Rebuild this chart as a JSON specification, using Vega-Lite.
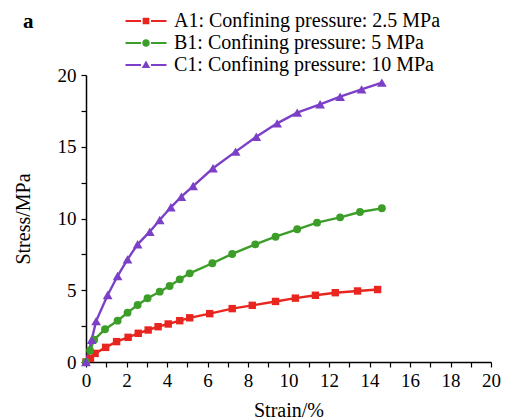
{
  "$schema": "https://vega.github.io/schema/vega-lite/v6.json",
  "width": 405,
  "height": 287,
  "autosize": "none",
  "padding": {"left": 86, "top": 75, "right": 17, "bottom": 57},
  "background": "white",
  "title": {"text": "a", "anchor": "start", "frame": "group", "font": "Liberation Serif", "fontSize": 21, "fontWeight": "bold", "color": "black", "dx": -63, "dy": 21, "offset": 0},
  "config": {
    "view": {"stroke": null},
    "font": "Liberation Serif",
    "axis": {"domainColor": "black", "tickColor": "black", "domainWidth": 1.5, "tickWidth": 1.2, "tickSize": 5, "grid": false, "labelFont": "Liberation Serif", "titleFont": "Liberation Serif", "labelFontSize": 19, "titleFontSize": 20, "labelColor": "black", "titleColor": "black", "titleFontWeight": "normal"}
  },
  "data": {"values": [
    {"s": "A1: Confining pressure: 2.5 MPa", "x": 0, "y": 0},
    {"s": "A1: Confining pressure: 2.5 MPa", "x": 0.22, "y": 0.25},
    {"s": "A1: Confining pressure: 2.5 MPa", "x": 0.45, "y": 0.6},
    {"s": "A1: Confining pressure: 2.5 MPa", "x": 0.97, "y": 1.02},
    {"s": "A1: Confining pressure: 2.5 MPa", "x": 1.51, "y": 1.42},
    {"s": "A1: Confining pressure: 2.5 MPa", "x": 2.08, "y": 1.72},
    {"s": "A1: Confining pressure: 2.5 MPa", "x": 2.58, "y": 2.0},
    {"s": "A1: Confining pressure: 2.5 MPa", "x": 3.07, "y": 2.23},
    {"s": "A1: Confining pressure: 2.5 MPa", "x": 3.56, "y": 2.46},
    {"s": "A1: Confining pressure: 2.5 MPa", "x": 4.06, "y": 2.65},
    {"s": "A1: Confining pressure: 2.5 MPa", "x": 4.63, "y": 2.88},
    {"s": "A1: Confining pressure: 2.5 MPa", "x": 5.12, "y": 3.08},
    {"s": "A1: Confining pressure: 2.5 MPa", "x": 6.11, "y": 3.37},
    {"s": "A1: Confining pressure: 2.5 MPa", "x": 7.22, "y": 3.72},
    {"s": "A1: Confining pressure: 2.5 MPa", "x": 8.21, "y": 3.95},
    {"s": "A1: Confining pressure: 2.5 MPa", "x": 9.36, "y": 4.22},
    {"s": "A1: Confining pressure: 2.5 MPa", "x": 10.34, "y": 4.45},
    {"s": "A1: Confining pressure: 2.5 MPa", "x": 11.33, "y": 4.65},
    {"s": "A1: Confining pressure: 2.5 MPa", "x": 12.31, "y": 4.83},
    {"s": "A1: Confining pressure: 2.5 MPa", "x": 13.41, "y": 4.95},
    {"s": "A1: Confining pressure: 2.5 MPa", "x": 14.4, "y": 5.05},
    {"s": "B1: Confining pressure: 5 MPa", "x": 0, "y": 0},
    {"s": "B1: Confining pressure: 5 MPa", "x": 0.2, "y": 0.8},
    {"s": "B1: Confining pressure: 5 MPa", "x": 0.4, "y": 1.55},
    {"s": "B1: Confining pressure: 5 MPa", "x": 0.94, "y": 2.28},
    {"s": "B1: Confining pressure: 5 MPa", "x": 1.56, "y": 2.88},
    {"s": "B1: Confining pressure: 5 MPa", "x": 2.05, "y": 3.44},
    {"s": "B1: Confining pressure: 5 MPa", "x": 2.55, "y": 3.97},
    {"s": "B1: Confining pressure: 5 MPa", "x": 3.04, "y": 4.44},
    {"s": "B1: Confining pressure: 5 MPa", "x": 3.64, "y": 4.9},
    {"s": "B1: Confining pressure: 5 MPa", "x": 4.13, "y": 5.3},
    {"s": "B1: Confining pressure: 5 MPa", "x": 4.63, "y": 5.76},
    {"s": "B1: Confining pressure: 5 MPa", "x": 5.12, "y": 6.18},
    {"s": "B1: Confining pressure: 5 MPa", "x": 6.24, "y": 6.88},
    {"s": "B1: Confining pressure: 5 MPa", "x": 7.22, "y": 7.53},
    {"s": "B1: Confining pressure: 5 MPa", "x": 8.36, "y": 8.2},
    {"s": "B1: Confining pressure: 5 MPa", "x": 9.36, "y": 8.73},
    {"s": "B1: Confining pressure: 5 MPa", "x": 10.43, "y": 9.25},
    {"s": "B1: Confining pressure: 5 MPa", "x": 11.41, "y": 9.71},
    {"s": "B1: Confining pressure: 5 MPa", "x": 12.55, "y": 10.08},
    {"s": "B1: Confining pressure: 5 MPa", "x": 13.53, "y": 10.45},
    {"s": "B1: Confining pressure: 5 MPa", "x": 14.61, "y": 10.71},
    {"s": "C1: Confining pressure: 10 MPa", "x": 0, "y": 0},
    {"s": "C1: Confining pressure: 10 MPa", "x": 0.28, "y": 1.55},
    {"s": "C1: Confining pressure: 10 MPa", "x": 0.5, "y": 2.85},
    {"s": "C1: Confining pressure: 10 MPa", "x": 1.07, "y": 4.67},
    {"s": "C1: Confining pressure: 10 MPa", "x": 1.56, "y": 5.99},
    {"s": "C1: Confining pressure: 10 MPa", "x": 2.05, "y": 7.15},
    {"s": "C1: Confining pressure: 10 MPa", "x": 2.55, "y": 8.2},
    {"s": "C1: Confining pressure: 10 MPa", "x": 3.15, "y": 9.08},
    {"s": "C1: Confining pressure: 10 MPa", "x": 3.64, "y": 9.9},
    {"s": "C1: Confining pressure: 10 MPa", "x": 4.19, "y": 10.78},
    {"s": "C1: Confining pressure: 10 MPa", "x": 4.71, "y": 11.52},
    {"s": "C1: Confining pressure: 10 MPa", "x": 5.29, "y": 12.26},
    {"s": "C1: Confining pressure: 10 MPa", "x": 6.27, "y": 13.5},
    {"s": "C1: Confining pressure: 10 MPa", "x": 7.39, "y": 14.66},
    {"s": "C1: Confining pressure: 10 MPa", "x": 8.41, "y": 15.7},
    {"s": "C1: Confining pressure: 10 MPa", "x": 9.44, "y": 16.63},
    {"s": "C1: Confining pressure: 10 MPa", "x": 10.43, "y": 17.38},
    {"s": "C1: Confining pressure: 10 MPa", "x": 11.56, "y": 17.96},
    {"s": "C1: Confining pressure: 10 MPa", "x": 12.55, "y": 18.49},
    {"s": "C1: Confining pressure: 10 MPa", "x": 13.61, "y": 19.0},
    {"s": "C1: Confining pressure: 10 MPa", "x": 14.61, "y": 19.47}
  ]},
  "encoding": {
    "x": {"field": "x", "type": "quantitative", "scale": {"domain": [0, 20], "nice": false},
      "axis": {"title": "Strain/%", "values": [0,1,2,3,4,5,6,7,8,9,10,11,12,13,14,15,16,17,18,19,20], "labelExpr": "datum.value % 2 === 0 ? datum.label : ''", "labelPadding": 4, "titlePadding": 10, "labelFlush": false}},
    "y": {"field": "y", "type": "quantitative", "scale": {"domain": [0, 20], "nice": false},
      "axis": {"title": "Stress/MPa", "values": [0,2.5,5,7.5,10,12.5,15,17.5,20], "labelExpr": "datum.value % 5 === 0 ? datum.label : ''", "labelPadding": 5, "titlePadding": 24, "labelFlush": false}},
    "color": {"field": "s", "type": "nominal",
      "scale": {"domain": ["A1: Confining pressure: 2.5 MPa", "B1: Confining pressure: 5 MPa", "C1: Confining pressure: 10 MPa"], "range": ["#e8261f", "#3c9e29", "#7c40c8"]},
      "legend": {"title": null, "orient": "none", "legendX": 50, "legendY": -64, "padding": 0, "labelFont": "Liberation Serif", "labelFontSize": 20, "labelColor": "black", "labelOffset": 18, "rowPadding": 2, "symbolSize": 100, "symbolStrokeWidth": 0, "symbolOpacity": 1, "labelLimit": 400}
    }
  },
  "layer": [
    {"mark": {"type": "line", "strokeWidth": 2.4}},
    {"transform": [{"filter": "datum.s === 'A1: Confining pressure: 2.5 MPa'"}],
      "mark": {"type": "point", "filled": true, "opacity": 1, "size": 55, "shape": "square"}},
    {"transform": [{"filter": "datum.s === 'B1: Confining pressure: 5 MPa'"}],
      "mark": {"type": "point", "filled": true, "opacity": 1, "size": 62, "shape": "circle"}},
    {"transform": [{"filter": "datum.s === 'C1: Confining pressure: 10 MPa'"}],
      "mark": {"type": "point", "filled": true, "opacity": 1, "size": 95, "shape": "triangle-up"}},
    {"mark": {"type": "point", "filled": true, "size": 0},
      "encoding": {
        "shape": {"field": "s", "type": "nominal",
          "scale": {"domain": ["A1: Confining pressure: 2.5 MPa", "B1: Confining pressure: 5 MPa", "C1: Confining pressure: 10 MPa"],
            "range": ["M-4.1,-0.2H-1V0.2H-4.1Z M-0.67,-0.67H0.67V0.67H-0.67Z M1,-0.2H4.1V0.2H1Z", "M-4.1,-0.2H-1V0.2H-4.1Z M-0.75,0A0.75,0.75 0 1,0 0.75,0A0.75,0.75 0 1,0 -0.75,0Z M1,-0.2H4.1V0.2H1Z", "M-4.1,-0.2H-1V0.2H-4.1Z M0,-0.9L0.85,0.6H-0.85Z M1,-0.2H4.1V0.2H1Z"]},
          "legend": {"title": null, "orient": "none", "legendX": 50, "legendY": -64, "padding": 0, "labelFont": "Liberation Serif", "labelFontSize": 20, "labelColor": "black", "labelOffset": 18, "rowPadding": 2, "symbolSize": 100, "symbolStrokeWidth": 0, "symbolOpacity": 1, "labelLimit": 400}
        }
      }
    }
  ]
}
